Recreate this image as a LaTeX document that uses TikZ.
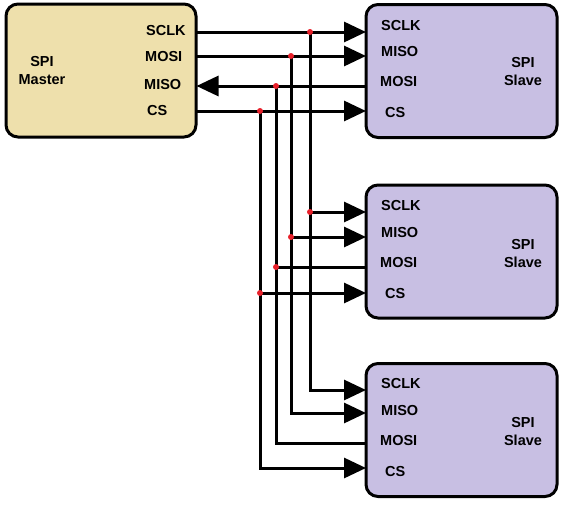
\documentclass[tikz,border=0pt]{standalone}
\usepackage{fontspec}
\setmainfont{Liberation Sans}
\usepackage{xcolor}
\usetikzlibrary{arrows.meta}
\definecolor{spitan}{HTML}{EEE0AC}
\definecolor{spilav}{HTML}{C8BFE3}
\definecolor{spired}{HTML}{E8202A}

\begin{document}
\begin{tikzpicture}[x=1pt, y=-1pt,
  unit/.style={draw=black, line width=3pt, rounded corners=12pt, minimum width=191pt, minimum height=133pt, inner sep=0pt},
  pinlabel/.style={anchor=west, inner sep=0pt, font=\fontsize{14.5}{18}\selectfont\bfseries},
  unitname/.style={align=center, inner sep=0pt, font=\fontsize{14.5}{18}\selectfont\bfseries},
  wire/.style={line width=3pt},
  sigarrow/.style={-{Triangle[length=22pt, width=20pt]}},
  jdot/.style={fill=spired}]
  \useasboundingbox (0,0) rectangle (565,506);

  % master and slaves
  \node[unit, fill=spitan, minimum width=190pt] (master) at (101,70.5) {};
  \node[unit, fill=spilav] (slaveA) at (461.5,71) {};
  \node[unit, fill=spilav] (slaveB) at (461.5,251.5) {};
  \node[unit, fill=spilav] (slaveC) at (461.5,430) {};

  \node[unitname] (mname) at (42,71) {SPI\\Master};
  \node[pinlabel] (mlab-sclk) at (146,30.5) {SCLK};
  \node[pinlabel] (mlab-mosi) at (145,57) {MOSI};
  \node[pinlabel] (mlab-miso) at (144,85) {MISO};
  \node[pinlabel] (mlab-cs) at (147,111) {CS};

  \node[unitname] (aname) at (523,72) {SPI\\Slave};
  \node[pinlabel] (alab-sclk) at (381,26) {SCLK};
  \node[pinlabel] (alab-miso) at (381,52) {MISO};
  \node[pinlabel] (alab-mosi) at (380,82) {MOSI};
  \node[pinlabel] (alab-cs) at (385,113) {CS};

  \node[unitname] (bname) at (523,254) {SPI\\Slave};
  \node[pinlabel] (blab-sclk) at (381,206) {SCLK};
  \node[pinlabel] (blab-miso) at (381,233) {MISO};
  \node[pinlabel] (blab-mosi) at (380,263) {MOSI};
  \node[pinlabel] (blab-cs) at (385,294) {CS};

  \node[unitname] (cname) at (523,432) {SPI\\Slave};
  \node[pinlabel] (clab-sclk) at (381,384) {SCLK};
  \node[pinlabel] (clab-miso) at (381,411) {MISO};
  \node[pinlabel] (clab-mosi) at (380,441) {MOSI};
  \node[pinlabel] (clab-cs) at (385,472) {CS};

  % pin points on the box edges
  \coordinate (m-sclk) at (196.5,32);
  \coordinate (m-mosi) at (196.5,56);
  \coordinate (m-miso) at (196.5,86);
  \coordinate (m-cs) at (196.5,111);
  \coordinate (a-sclk) at (366,32);
  \coordinate (a-miso) at (366,56);
  \coordinate (a-mosi) at (366,86);
  \coordinate (a-cs) at (366,111);
  \coordinate (b-sclk) at (366,212);
  \coordinate (b-miso) at (366,237);
  \coordinate (b-mosi) at (366,267);
  \coordinate (b-cs) at (366,293);
  \coordinate (c-sclk) at (366,390);
  \coordinate (c-miso) at (366,413);
  \coordinate (c-mosi) at (366,443);
  \coordinate (c-cs) at (366,468);

  % bus junctions
  \coordinate (ja-sclk) at (310,32);
  \coordinate (ja-mosi) at (291,56);
  \coordinate (ja-miso) at (276,86);
  \coordinate (ja-cs) at (260,111);
  \coordinate (jb-sclk) at (310,212);
  \coordinate (jb-mosi) at (291,237);
  \coordinate (jb-miso) at (276,267);
  \coordinate (jb-cs) at (260,293);

  \draw[wire, sigarrow] (m-sclk) -- (a-sclk);
  \draw[wire, sigarrow] (m-mosi) -- (a-miso);
  \draw[wire, sigarrow] (a-mosi) -- (m-miso);
  \draw[wire, sigarrow] (m-cs) -- (a-cs);

  \draw[wire, sigarrow] (ja-sclk) |- (c-sclk);
  \draw[wire, sigarrow] (jb-sclk) -- (b-sclk);
  \draw[wire, sigarrow] (ja-mosi) |- (c-miso);
  \draw[wire, sigarrow] (jb-mosi) -- (b-miso);
  \draw[wire] (c-mosi) -| (ja-miso);
  \draw[wire] (b-mosi) -- (jb-miso);
  \draw[wire, sigarrow] (ja-cs) |- (c-cs);
  \draw[wire, sigarrow] (jb-cs) -- (b-cs);

  \foreach \j in {ja-sclk, ja-mosi, ja-miso, ja-cs, jb-sclk, jb-mosi, jb-miso, jb-cs}
    \fill[jdot] (\j) circle (3pt);
\end{tikzpicture}
\end{document}
